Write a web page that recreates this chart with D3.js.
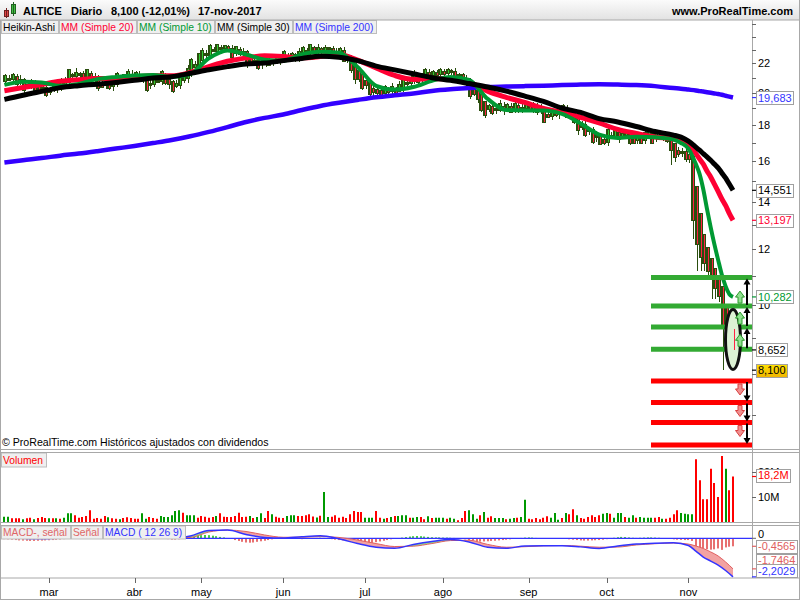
<!DOCTYPE html>
<html><head><meta charset="utf-8"><title>ALTICE</title>
<script src="https://cdn.jsdelivr.net/npm/d3@7/dist/d3.min.js"></script>
<style>html,body{margin:0;padding:0;background:#fff}svg{display:block;font-family:"Liberation Sans",Arial,Helvetica,sans-serif;font-size:11px}</style>
</head><body>
<svg id="chart" width="800" height="600"></svg>
<script>
// ---------- DATA (Heikin-Ashi candles) ----------
const haOpen=[20.75,20.93,20.89,21.05,20.80,20.83,20.52,20.51,20.66,20.43,
20.32,20.29,20.07,20.16,20.38,20.34,20.57,20.69,21.10,21.13,
21.24,21.22,21.04,21.27,21.01,21.03,20.67,20.54,20.52,20.41,
20.56,20.91,20.86,21.01,21.21,21.11,21.21,21.06,20.98,20.59,
20.57,20.79,20.77,21.09,20.87,20.71,20.41,20.51,20.81,20.96,
21.28,21.77,21.84,22.25,22.58,22.64,22.97,22.94,23.15,23.10,
23.18,23.09,22.77,22.99,22.82,22.84,22.37,22.19,22.15,21.93,
21.97,22.26,22.08,22.12,22.31,22.26,22.53,22.47,22.59,22.42,
22.64,22.87,22.86,23.11,22.98,23.07,22.94,23.02,23.06,22.78,
22.79,22.92,22.56,22.41,21.96,21.43,21.17,20.74,20.62,20.26,
20.16,20.08,19.97,20.19,20.12,20.24,20.12,20.31,20.61,20.61,
20.76,21.06,20.88,21.07,21.29,21.20,21.30,21.25,21.40,21.33,
21.44,21.42,21.09,21.15,20.90,20.83,20.32,20.11,19.86,19.38,
18.99,19.07,18.89,18.92,19.11,19.01,19.11,18.96,19.13,18.99,
19.02,19.11,18.98,19.14,18.95,18.95,18.58,18.54,18.72,18.66,
18.73,18.94,18.72,18.69,18.45,18.08,17.99,17.70,17.70,17.38,
17.37,17.14,17.05,17.38,17.37,17.56,17.38,17.44,17.52,17.26,
17.13,17.29,17.15,17.35,17.48,17.24,17.37,17.34,17.37,17.24,
16.92,16.56,16.48,16.49,16.30,16.20,14.70,13.45,12.58,12.04,
11.62,11.26,10.93,10.62,9.96,9.58,9.27];
const haClose=[21.10,20.85,21.20,20.55,20.85,20.20,20.50,20.80,20.20,20.20,
20.25,19.85,20.25,20.60,20.30,20.80,20.80,21.50,21.15,21.35,
21.20,20.85,21.50,20.75,21.05,20.30,20.40,20.50,20.30,20.70,
21.25,20.80,21.15,21.40,21.00,21.30,20.90,20.90,20.20,20.55,
21.00,20.75,21.40,20.65,20.55,20.10,20.60,21.10,21.10,21.60,
22.25,21.90,22.65,22.90,22.70,23.30,22.90,23.35,23.05,23.25,
23.00,22.45,23.20,22.65,22.85,21.90,22.00,22.10,21.70,22.00,
22.55,21.90,22.15,22.50,22.20,22.80,22.40,22.70,22.25,22.85,
23.10,22.85,23.35,22.85,23.15,22.80,23.10,23.10,22.50,22.80,
23.05,22.20,22.25,21.50,20.90,20.90,20.30,20.50,19.90,20.05,
20.00,19.85,20.40,20.05,20.35,20.00,20.50,20.90,20.60,20.90,
21.35,20.70,21.25,21.50,21.10,21.40,21.20,21.55,21.25,21.55,
21.40,20.75,21.20,20.65,20.75,19.80,19.90,19.60,18.90,18.60,
19.15,18.70,18.95,19.30,18.90,19.20,18.80,19.30,18.85,19.05,
19.20,18.85,19.30,18.75,18.95,18.20,18.50,18.90,18.60,18.80,
19.15,18.50,18.65,18.20,17.70,17.90,17.40,17.70,17.05,17.35,
16.90,16.95,17.70,17.35,17.75,17.20,17.50,17.60,17.00,17.00,
17.45,17.00,17.55,17.60,17.00,17.50,17.30,17.40,17.10,16.60,
16.20,16.40,16.50,16.10,16.10,13.20,12.20,11.70,11.50,11.20,
10.90,10.60,10.30,9.30,9.20,8.95,8.65];
const haHigh=[21.25,21.18,21.30,21.25,21.15,20.98,20.77,20.90,20.86,20.73,
20.47,20.54,20.35,20.80,20.68,20.95,21.05,21.60,21.35,21.65,
21.39,21.47,21.60,21.47,21.35,21.18,20.92,20.64,20.72,21.00,
21.40,21.16,21.25,21.60,21.51,21.45,21.46,21.16,21.18,20.89,
21.15,21.04,21.50,21.29,21.17,20.86,20.85,21.20,21.30,21.90,
22.40,22.15,22.75,23.10,23.00,23.45,23.22,23.45,23.35,23.35,
23.33,23.34,23.30,23.19,23.15,22.99,22.62,22.29,22.35,22.30,
22.70,22.51,22.25,22.70,22.61,22.95,22.78,22.80,22.79,23.15,
23.25,23.12,23.45,23.31,23.45,23.22,23.35,23.20,23.26,23.10,
23.20,23.17,22.66,22.61,22.01,21.58,21.42,20.84,20.82,20.56,
20.31,20.33,20.50,20.39,20.65,20.39,20.75,21.00,20.81,21.20,
21.50,21.31,21.35,21.70,21.59,21.55,21.55,21.65,21.60,21.65,
21.59,21.67,21.30,21.35,21.20,20.98,20.57,20.21,20.06,19.43,
19.30,19.32,19.05,19.50,19.41,19.35,19.36,19.40,19.33,19.35,
19.35,19.36,19.40,19.34,19.25,19.10,18.83,19.00,18.92,19.10,
19.30,19.19,18.82,18.74,18.50,18.23,18.24,17.80,17.90,17.68,
17.52,17.39,17.80,17.58,17.80,17.71,17.75,17.70,17.72,17.56,
17.60,17.54,17.65,17.80,17.53,17.65,17.62,17.50,17.57,17.29,
16.97,16.76,16.70,16.64,16.40,16.22,14.72,13.47,12.60,12.06,
11.64,11.28,10.95,10.64,9.98,9.60,9.29];
const haLow=[20.55,20.75,20.64,20.40,20.50,20.00,20.40,20.26,20.05,19.90,
20.05,19.75,19.82,20.01,20.00,20.14,20.47,20.44,20.95,20.83,
21.00,20.75,20.79,20.60,20.71,20.10,20.30,20.25,20.15,20.11,
20.36,20.70,20.61,20.86,20.70,20.91,20.80,20.65,20.05,20.25,
20.37,20.65,20.52,20.50,20.25,19.95,20.31,20.26,20.66,20.66,
21.08,21.67,21.59,22.10,22.28,22.44,22.80,22.69,22.90,22.80,
22.80,22.35,22.52,22.50,22.52,21.70,21.90,21.85,21.55,21.63,
21.77,21.80,21.83,21.97,21.90,22.06,22.30,22.22,22.10,22.12,
22.44,22.75,22.61,22.70,22.68,22.60,22.84,22.77,22.35,22.48,
22.59,22.10,22.00,21.35,20.60,20.70,20.20,20.25,19.80,19.75,
19.80,19.75,19.85,19.90,19.82,19.85,20.02,20.06,20.45,20.31,
20.56,20.60,20.63,20.92,20.80,21.00,21.10,21.00,21.10,21.03,
21.20,20.65,20.84,20.50,20.45,19.60,19.80,19.35,18.75,18.40,
18.79,18.60,18.64,18.77,18.60,18.81,18.70,18.71,18.70,18.69,
18.82,18.75,18.73,18.60,18.65,18.10,18.40,18.29,18.45,18.36,
18.53,18.40,18.40,18.05,17.40,17.70,17.30,17.45,16.90,17.05,
16.85,16.85,16.80,17.20,17.20,17.00,17.28,17.19,16.85,16.95,
16.93,16.90,16.90,17.20,16.90,17.04,17.20,17.09,16.95,15.80,
15.95,16.20,16.23,15.95,15.90,12.40,11.20,11.20,11.20,10.90,
10.20,10.20,10.10,8.10,8.70,8.70,8.10];

// moving averages, read at these bar indices
const maIdx=[0,5,10,15,20,25,30,35,40,45,50,55,60,65,70,75,80,85,90,95,100,105,110,115,120,125,130,135,140,145,150,155,160,165,170,175,180,182,184,186,187,188,189,190,191,192,193,194,195,196];
const sma200=[15.93,16.05,16.16,16.29,16.40,16.53,16.67,16.81,16.97,17.14,17.35,17.60,17.88,18.18,18.42,18.63,18.90,19.15,19.35,19.53,19.70,19.83,19.95,20.11,20.22,20.30,20.37,20.40,20.43,20.46,20.50,20.53,20.55,20.53,20.50,20.43,20.30,20.26,20.20,20.14,20.10,20.07,20.03,19.99,19.95,19.91,19.86,19.80,19.74,19.683];
const sma30=[19.56,19.83,20.08,20.33,20.46,20.56,20.68,20.82,20.97,21.07,21.30,21.55,21.77,21.95,22.02,22.20,22.36,22.52,22.45,22.20,21.81,21.54,21.27,21.00,20.82,20.60,20.37,20.10,19.78,19.44,19.02,18.75,18.38,18.18,17.91,17.62,17.42,17.30,17.08,16.75,16.58,16.40,16.23,16.05,15.85,15.65,15.40,15.15,14.85,14.551];
const sma20=[20.12,20.34,20.54,20.75,20.86,20.94,20.95,21.04,21.14,21.13,21.36,21.77,22.15,22.40,22.55,22.50,22.40,22.50,22.65,22.24,21.68,21.15,20.88,20.93,20.93,20.72,20.10,19.70,19.37,19.00,18.76,18.46,18.12,17.74,17.51,17.31,17.20,17.10,16.95,16.40,16.12,15.85,15.50,15.20,14.85,14.50,14.15,13.85,13.50,13.197];
const sma10=[20.51,20.73,20.67,20.45,20.58,20.90,21.05,21.15,21.18,21.04,21.25,22.37,22.95,22.65,22.27,22.20,22.65,22.85,22.77,21.74,20.45,20.20,20.37,20.78,21.04,20.84,19.60,18.90,18.87,18.87,18.66,18.09,17.45,17.26,17.32,17.29,17.16,16.98,16.67,15.85,15.35,14.60,13.70,12.90,12.20,11.60,11.05,10.65,10.38,10.282];

const volume=[2.1,2.1,1.5,1.5,1.5,1.1,1.5,1.7,1.1,1.6,
2.0,1.6,1.5,1.5,1.5,1.3,1.7,3.5,3.5,2.7,
1.7,2.0,2.4,4.7,1.3,1.6,1.3,2.4,1.9,1.5,
1.3,1.1,1.6,1.9,1.6,1.3,1.3,3.5,1.3,2.0,
1.6,1.3,2.4,2.0,2.0,2.7,4.4,4.7,3.7,2.7,
2.7,2.7,1.7,2.4,2.1,1.7,2.0,2.4,3.5,2.1,
2.0,2.0,2.4,3.7,2.0,2.1,2.4,1.6,2.0,3.5,
1.6,4.4,3.1,2.1,1.7,1.6,2.4,2.7,2.7,2.4,
2.4,2.7,3.1,2.2,1.8,2.5,12.0,2.0,2.1,2.7,
1.7,2.1,1.6,3.1,4.4,4.0,4.0,1.7,1.7,1.7,
4.4,1.7,1.3,1.6,2.0,2.4,2.4,2.7,2.7,1.7,
1.7,2.0,2.0,1.1,2.3,1.6,1.7,1.7,1.7,1.3,
1.7,1.3,0.7,1.6,4.4,4.7,3.1,1.3,2.7,4.0,
1.7,2.3,1.6,1.6,1.6,1.1,1.3,1.6,1.7,2.0,
8.9,1.3,1.1,1.6,1.1,1.7,2.3,1.7,3.6,0.9,
1.6,3.6,3.1,5.1,2.7,1.6,1.3,2.0,2.7,2.0,
2.7,3.3,3.6,3.3,1.7,3.6,3.6,2.0,1.7,2.7,
1.7,2.0,1.7,1.7,1.7,1.7,2.0,1.3,1.3,1.7,
3.1,4.7,3.6,3.3,3.1,3.1,25.1,16.7,9.1,9.1,
21.3,15.6,10.0,26.4,21.3,12.7,18.2];
const volUp=[1,1,0,0,0,1,0,0,1,0, 0,0,1,0,1,0,1,1,1,0, 0,0,0,0,0,0,0,0,1,0, 0,1,0,0,0,0,0,1,1,0,
0,0,1,1,1,1,1,1,0,1, 1,1,0,0,0,0,0,1,0,0, 0,0,0,0,0,0,1,0,1,1, 0,0,1,0,0,0,1,1,1,0,
0,0,0,0,1,0,1,1,0,0, 0,0,0,0,0,0,0,1,1,1, 0,0,1,0,1,0,1,1,1,0, 1,1,0,0,1,0,1,1,1,0,
1,1,0,0,0,1,1,1,0,1, 0,0,1,1,1,0,1,1,0,1, 1,0,0,0,0,0,0,1,1,1, 0,1,0,0,1,0,0,0,0,0,
0,1,1,0,1,1,1,0,1,1, 0,1,1,1,1,0,0,1,0,0, 0,0,1,1,1,1,0,0,0,0, 0,0,0,0,1,0,0];

const macdHist=[-0.05,-0.06,-0.08,-0.10,-0.12,-0.13,-0.14,-0.15,-0.15,-0.14,
-0.13,-0.12,-0.11,-0.10,-0.09,-0.07,-0.05,-0.03,0.02,0.04,
0.05,0.05,0.04,0.03,0.02,0.00,-0.02,-0.03,-0.02,0.00,
0.02,0.03,0.04,0.04,0.03,0.02,0.00,-0.05,-0.07,-0.06,
-0.03,-0.01,0.00,-0.02,-0.05,-0.08,-0.08,-0.06,-0.02,0.03,
0.08,0.12,0.15,0.18,0.19,0.18,0.15,0.12,0.08,0.05,
0.01,-0.04,-0.10,-0.15,-0.20,-0.24,-0.25,-0.24,-0.20,-0.17,
-0.14,-0.10,-0.06,-0.03,0.00,0.02,0.03,0.02,0.00,-0.03,
-0.05,-0.04,-0.02,0.00,0.02,0.03,0.02,-0.01,-0.05,-0.08,
-0.10,-0.12,-0.15,-0.20,-0.25,-0.28,-0.30,-0.30,-0.28,-0.26,
-0.22,-0.18,-0.14,-0.10,-0.06,-0.03,0.00,0.04,0.07,0.10,
0.12,0.13,0.12,0.10,0.08,0.06,0.05,0.05,0.04,0.04,
0.03,0.02,0.00,-0.02,-0.06,-0.10,-0.14,-0.17,-0.19,-0.18,
-0.17,-0.15,-0.14,-0.12,-0.10,-0.08,-0.06,-0.04,-0.02,0.02,
0.04,0.05,0.04,0.02,0.00,-0.02,-0.03,-0.02,-0.01,0.00,
-0.01,-0.03,-0.06,-0.08,-0.10,-0.12,-0.13,-0.13,-0.12,-0.11,
-0.10,-0.08,-0.05,-0.02,0.03,0.06,0.08,0.07,0.05,0.03,
0.02,0.03,0.04,0.05,0.05,0.04,0.03,0.01,-0.01,-0.03,
-0.06,-0.08,-0.09,-0.10,-0.10,-0.15,-0.45,-0.55,-0.58,-0.62,
-0.65,-0.63,-0.58,-0.66,-0.52,-0.48,-0.4565];
const macdIdx=[0,5,10,15,20,25,30,35,40,45,50,55,60,65,70,75,80,85,90,95,100,105,110,115,120,125,130,135,140,145,150,155,160,165,170,175,180,184,186,188,190,192,194,196];
const macdLine=[0.05,0.00,-0.03,0.02,0.08,0.06,0.02,0.06,0.04,0.00,0.13,0.45,0.47,0.22,0.05,0.02,0.09,0.14,-0.03,-0.30,-0.51,-0.57,-0.35,-0.18,-0.07,-0.21,-0.51,-0.57,-0.44,-0.42,-0.42,-0.49,-0.58,-0.44,-0.33,-0.28,-0.26,-0.41,-0.73,-1.07,-1.30,-1.53,-1.84,-2.2029];
const signalLine=[0.10,0.08,0.06,0.06,0.05,0.06,0.04,0.05,0.06,0.05,0.05,0.36,0.47,0.39,0.19,0.06,0.06,0.10,0.05,-0.10,-0.30,-0.47,-0.45,-0.30,-0.13,-0.11,-0.35,-0.51,-0.48,-0.43,-0.41,-0.45,-0.51,-0.50,-0.38,-0.31,-0.27,-0.33,-0.44,-0.58,-0.78,-1.01,-1.35,-1.7464];

const monthLabels=['mar','abr','may','jun','jul','ago','sep','oct','nov'];
const monthIdx=[12,35,53,75,97,118,141,162,184];
const priceTicks=[7,8,9,10,11,12,13,14,15,16,17,18,19,20,21,22,23,24,25];
const priceLabels=[8,10,12,14,16,18,20,22];
const greenLevels=[10.95,9.98,9.32,8.67];
const redLevels=[7.82,7.29,6.83,6.35];
const legendNames=['Heikin-Ashi','MM (Simple 20)','MM (Simple 10)','MM (Simple 30)','MM (Simple 200)'];
const legendColors=['#000000','#ff0033','#009933','#000000','#3333ff'];
const macdLegend=['MACD-, señal','Señal','MACD ( 12 26 9)'];
const macdLegendColors=['#e06666','#e06666','#3333ff'];
const lastClose=8.100, haLast=8.652;

// ---------- SCALES ----------
const svg=d3.select('#chart');
const defs=svg.append('defs');
const N=haClose.length;
const x=d3.scaleLinear().domain([0,N-1]).range([4.4,733]);
const yP=d3.scaleLog().domain([6,26]).range([462.3,12.1]);
const yV=d3.scaleLinear().domain([0,28]).range([522,452]);
const yM=d3.scaleLinear().domain([-2.3,0.8]).range([578.55,524.3]);
const AX=752;

function clip(id,x0,y0,w,h){defs.append('clipPath').attr('id',id).append('rect').attr('x',x0).attr('y',y0).attr('width',w).attr('height',h);}
clip('cm',1,20,751,429); clip('cv',1,453,751,69); clip('cq',1,526,751,52);

// ---------- HEADER ----------
const hg=defs.append('linearGradient').attr('id','hdr').attr('x1',0).attr('y1',0).attr('x2',0).attr('y2',1);
hg.append('stop').attr('offset',0).attr('stop-color','#fbfbfb');
hg.append('stop').attr('offset',1).attr('stop-color','#e2e2e2');
svg.append('rect').attr('x',0).attr('y',0).attr('width',800).attr('height',20).attr('fill','url(#hdr)');
svg.append('rect').attr('x',4.5).attr('y',10.5).attr('width',4).attr('height',6).attr('fill','#e04848').attr('stroke','#702020');
svg.append('line').attr('x1',6.5).attr('x2',6.5).attr('y1',8).attr('y2',18).attr('stroke','#702020');
svg.append('rect').attr('x',11.5).attr('y',4.5).attr('width',4).attr('height',9).attr('fill','#40c040').attr('stroke','#206020');
svg.append('line').attr('x1',13.5).attr('x2',13.5).attr('y1',2).attr('y2',16).attr('stroke','#206020');
const titleParts=[['ALTICE',23],['Diario',71],['8,100 (-12,01%)',111],['17-nov-2017',198]];
titleParts.forEach(p=>svg.append('text').attr('x',p[1]).attr('y',15).attr('font-weight','bold').attr('fill','#000').text(p[0]));
svg.append('text').attr('x',793).attr('y',15).attr('text-anchor','end').attr('font-weight','bold').text('www.ProRealTime.com');

// ---------- MAIN PRICE PANEL ----------
const gC=svg.append('g').attr('clip-path','url(#cm)');
const DK='#2a4e0e';
const bars=d3.range(N).map(i=>({i,o:haOpen[i],c:haClose[i],h:haHigh[i],l:haLow[i]}));
const X=d=>Math.round(x(d.i));
gC.selectAll('.wick').data(bars).join('rect').attr('class','wick')
  .attr('x',d=>X(d)+1).attr('y',d=>Math.round(yP(d.h))).attr('width',1)
  .attr('height',d=>Math.max(1,Math.round(yP(d.l))-Math.round(yP(d.h)))).attr('fill',DK);
const bt=d=>Math.round(yP(Math.max(d.o,d.c))), bb=d=>Math.round(yP(Math.min(d.o,d.c)));
gC.selectAll('.body').data(bars).join('rect').attr('class','body')
  .attr('x',d=>X(d)-1).attr('y',d=>bt(d)-1).attr('width',4)
  .attr('height',d=>Math.max(3,bb(d)-bt(d)+2)).attr('fill',DK);
gC.selectAll('.core').data(bars.filter(d=>bb(d)-bt(d)>1)).join('rect').attr('class','core')
  .attr('x',d=>X(d)+1).attr('y',d=>bt(d)).attr('width',1)
  .attr('height',d=>bb(d)-bt(d)).attr('fill',d=>d.c>=d.o?'#33cc33':'#ff2244');

const maLine=d3.line().x(d=>x(d[0])).y(d=>yP(d[1])).curve(d3.curveMonotoneX);
[[sma200,'#3300ff',4.5],[sma20,'#ff0033',5],[sma10,'#009933',4],[sma30,'#000000',5]].forEach(([arr,col,w])=>{
  gC.append('path').attr('d',maLine(maIdx.map((k,j)=>[k,arr[j]]))).attr('fill','none')
    .attr('stroke',col).attr('stroke-width',w).attr('stroke-linejoin','round');
});

const lvX0=651, lvX1=AX;
gC.selectAll('.gl').data(greenLevels).join('line').attr('x1',lvX0).attr('x2',lvX1)
  .attr('y1',d=>yP(d)).attr('y2',d=>yP(d)).attr('stroke','#33aa33').attr('stroke-width',5);
gC.selectAll('.rl').data(redLevels).join('line').attr('x1',lvX0).attr('x2',lvX1)
  .attr('y1',d=>yP(d)).attr('y2',d=>yP(d)).attr('stroke','#ff0000').attr('stroke-width',5);

const ex=x(N-1);
gC.append('ellipse').attr('cx',ex).attr('cy',yP(8.95)).attr('rx',7.5).attr('ry',30)
  .attr('fill','#dcf2d4').attr('stroke','#111').attr('stroke-width',3);
const lb=bars[N-1];
gC.append('rect').attr('x',X(lb)+1).attr('y',bt(lb)).attr('width',1).attr('height',bb(lb)-bt(lb)).attr('fill','#ff2244');

function blockArrow(cx,yt,yb,up,fill,stroke){
  const hw=4.5, sw=2, hh=6;
  let p;
  if(up) p=`M${cx},${yt}L${cx+hw},${yt+hh}L${cx+sw},${yt+hh}L${cx+sw},${yb}L${cx-sw},${yb}L${cx-sw},${yt+hh}L${cx-hw},${yt+hh}Z`;
  else p=`M${cx},${yb}L${cx+hw},${yb-hh}L${cx+sw},${yb-hh}L${cx+sw},${yt}L${cx-sw},${yt}L${cx-sw},${yb-hh}L${cx-hw},${yb-hh}Z`;
  gC.append('path').attr('d',p).attr('fill',fill).attr('stroke',stroke).attr('stroke-width',1);
}
function lineArrow(cx,from,to){
  const dir=to<from?1:-1;
  gC.append('line').attr('x1',cx).attr('x2',cx).attr('y1',from).attr('y2',to+dir*5).attr('stroke','#000').attr('stroke-width',2);
  gC.append('path').attr('d',`M${cx},${to}L${cx-3.5},${to+dir*6}L${cx+3.5},${to+dir*6}Z`).attr('fill','#000');
}
for(let k=0;k<3;k++){
  const a=yP(greenLevels[k]), b=yP(greenLevels[k+1]);
  blockArrow(740,b-15,b-3,true,'#8fe08f','#2a9a2a');
  lineArrow(747,b-1,a+1);
  const c=yP(redLevels[k]), d=yP(redLevels[k+1]);
  blockArrow(740,c+3,c+14,false,'#f09090','#d84040');
  lineArrow(747,c+1,d-1);
}

function legendRow(names,cols,x0,y0,h,base){
  let cx=x0;
  names.forEach((n,k)=>{
    const r=svg.append('rect').attr('y',y0+0.5).attr('height',h).attr('fill','#efefef').attr('stroke','#bdbdbd');
    const t=svg.append('text').attr('x',cx+2).attr('y',base).attr('fill',cols[k]).attr('font-size','10.3px').text(n);
    const w=Math.ceil(t.node().getComputedTextLength())+4;
    r.attr('x',cx+0.5).attr('width',w);
    cx+=w+1;
  });
}
legendRow(legendNames,legendColors,1,20,13,31);
svg.append('text').attr('x',2).attr('y',446).attr('fill','#000').attr('font-size','10.6px').text('© ProRealTime.com  Históricos ajustados con dividendos');

// ---------- VOLUME ----------
const gV=svg.append('g').attr('clip-path','url(#cv)');
gV.selectAll('rect').data(d3.range(N)).join('rect')
  .attr('x',i=>Math.round(x(i))-1).attr('y',i=>yV(volume[i])).attr('width',2)
  .attr('height',i=>yV(0)-yV(volume[i])).attr('fill',i=>volUp[i]?'#009900':'#ff0000');
legendRow(['Volumen'],['#ff0000'],1,452.5,14,464);

// ---------- MACD ----------
const gQ=svg.append('g').attr('clip-path','url(#cq)');
gQ.selectAll('.h').data(d3.range(N)).join('rect').attr('class','h')
  .attr('x',i=>Math.round(x(i))-1).attr('width',2)
  .attr('y',i=>Math.min(yM(0),yM(macdHist[i]))).attr('height',i=>Math.abs(yM(macdHist[i])-yM(0)))
  .attr('fill',i=>macdHist[i]>=0?'#44cc44':'#e87070');
gQ.append('line').attr('x1',1).attr('x2',AX).attr('y1',yM(0)).attr('y2',yM(0)).attr('stroke','#3333ff').attr('stroke-width',1.2);
const mPts=macdIdx.map((k,j)=>[k,macdLine[j]]), sPts=macdIdx.map((k,j)=>[k,signalLine[j]]);
const both=macdIdx.map((k,j)=>[k,macdLine[j],signalLine[j]]);
const cv=d3.curveMonotoneX;
defs.append('clipPath').attr('id','abv').append('path').attr('d',d3.area().x(d=>x(d[0])).y0(0).y1(d=>yM(d[1])).curve(cv)(mPts));
defs.append('clipPath').attr('id','blw').append('path').attr('d',d3.area().x(d=>x(d[0])).y0(600).y1(d=>yM(d[1])).curve(cv)(mPts));
const between=d3.area().x(d=>x(d[0])).y0(d=>yM(d[1])).y1(d=>yM(d[2])).curve(cv);
gQ.append('g').attr('clip-path','url(#abv)').append('path').attr('d',between(both)).attr('fill','#f2a2a2');
gQ.append('g').attr('clip-path','url(#blw)').append('path').attr('d',between(both)).attr('fill','#8fdc8f');
const ml=d3.line().x(d=>x(d[0])).y(d=>yM(d[1])).curve(cv);
gQ.append('path').attr('d',ml(sPts)).attr('fill','none').attr('stroke','#e06060').attr('stroke-width',1);
gQ.append('path').attr('d',ml(mPts)).attr('fill','none').attr('stroke','#3333ff').attr('stroke-width',1.5);
legendRow(macdLegend,macdLegendColors,1,525.5,13,536);

// ---------- FRAME ----------
const FR='#a8a8a8';
[[0,20,800,20],[0,449.5,800,449.5],[0,452.5,800,452.5],[0,522.5,800,522.5],[0,525.5,800,525.5],[0,578,800,578],[0,599.5,800,599.5]]
  .forEach(l=>svg.append('line').attr('x1',l[0]).attr('y1',l[1]).attr('x2',l[2]).attr('y2',l[3]).attr('stroke',FR));
svg.append('line').attr('x1',0.5).attr('x2',0.5).attr('y1',20).attr('y2',600).attr('stroke',FR);
svg.append('line').attr('x1',799.5).attr('x2',799.5).attr('y1',0).attr('y2',600).attr('stroke',FR);
svg.append('line').attr('x1',AX+0.5).attr('x2',AX+0.5).attr('y1',20).attr('y2',578).attr('stroke',FR);

// ---------- RIGHT AXES ----------
const gA=svg.append('g');
gA.selectAll('.pt').data(priceTicks).join('line').attr('x1',AX).attr('x2',AX+4)
  .attr('y1',d=>Math.round(yP(d))+0.5).attr('y2',d=>Math.round(yP(d))+0.5).attr('stroke','#666');
gA.selectAll('.pl').data(priceLabels).join('text').attr('x',AX+6).attr('y',d=>yP(d)+4).attr('fill','#000').text(d=>d);
[10,20].forEach(v=>{
  gA.append('line').attr('x1',AX).attr('x2',AX+4).attr('y1',yV(v)+0.5).attr('y2',yV(v)+0.5).attr('stroke','#666');
  gA.append('text').attr('x',AX+6).attr('y',yV(v)+4).text(v+'M');
});
gA.append('line').attr('x1',AX).attr('x2',AX+4).attr('y1',yM(0)).attr('y2',yM(0)).attr('stroke','#666');
gA.append('text').attr('x',AX+6).attr('y',yM(0)).text('0');

function tag(yc,txt,col,fill,tickY){
  gA.append('line').attr('x1',AX).attr('x2',AX+5).attr('y1',tickY).attr('y2',tickY).attr('stroke',col).attr('stroke-width',1.2);
  const r=gA.append('rect').attr('x',AX+4.5).attr('y',Math.round(yc-6.5)+0.5).attr('height',13).attr('fill',fill).attr('stroke','#a0a0a0');
  const t=gA.append('text').attr('x',AX+6).attr('y',yc+4).attr('fill',col).text(txt);
  r.attr('width',Math.ceil(t.node().getComputedTextLength())+3);
}
const fmt=(v,d)=>v.toFixed(d).replace('.',',');
const s200=sma200[sma200.length-1], s30=sma30[sma30.length-1], s20=sma20[sma20.length-1], s10=sma10[sma10.length-1];
tag(yP(s200),fmt(s200,3),'#3333ff','#ffffff',yP(s200));
tag(yP(s30),fmt(s30,3),'#000000','#ffffff',yP(s30));
tag(yP(s20),fmt(s20,3),'#ff0033','#ffffff',yP(s20));
tag(yP(s10),fmt(s10,3),'#009933','#ffffff',yP(s10));
tag(yP(haLast),fmt(haLast,3),'#000000','#ffffff',yP(haLast));
const gg=defs.append('linearGradient').attr('id','gold').attr('x1',0).attr('y1',0).attr('x2',0).attr('y2',1);
gg.append('stop').attr('offset',0).attr('stop-color','#ffe000');
gg.append('stop').attr('offset',1).attr('stop-color','#f0b400');
tag(yP(lastClose),fmt(lastClose,3),'#000000','url(#gold)',yP(lastClose));
const vLast=volume[N-1];
tag(yV(vLast)-1.5,fmt(vLast,1)+'M','#ff0000','#ffffff',yV(vLast));
const hLast=macdHist[N-1], mLast=macdLine[macdLine.length-1], sLast=signalLine[signalLine.length-1];
tag(yM(hLast),fmt(hLast,4),'#e06060','#ffffff',yM(hLast));
tag(560,fmt(sLast,4),'#e06060','#ffffff',yM(sLast));
tag(570.5,fmt(mLast,4),'#3333ff','#ffffff',yM(mLast));

// ---------- X AXIS ----------
const gX=svg.append('g');
gX.selectAll('line').data(monthIdx).join('line').attr('x1',d=>Math.round(x(d))+0.5).attr('x2',d=>Math.round(x(d))+0.5)
  .attr('y1',578).attr('y2',583).attr('stroke','#666');
gX.selectAll('text').data(monthIdx).join('text').attr('x',d=>x(d)).attr('y',596).attr('text-anchor','middle').attr('fill','#000')
  .text((d,k)=>monthLabels[k]);
</script></body></html>
